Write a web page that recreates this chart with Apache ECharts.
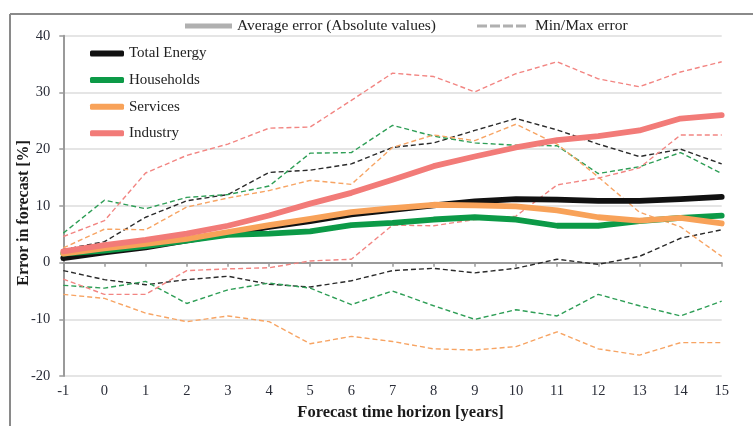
<!DOCTYPE html>
<html>
<head>
<meta charset="utf-8">
<script src="https://cdn.jsdelivr.net/npm/echarts@6/dist/echarts.min.js"></script>
<style>html,body{margin:0;padding:0;background:#fff;}#c{width:753px;height:426px;}</style>
</head>
<body>
<div id="c"></div>
<script>
const horizons = ['-1','0','1','2','3','4','5','6','7','8','9','10','11','12','13','14','15'];
const yTicks = [-20,-10,0,10,20,30,40];

const totalAvg      = [0.8,1.8,2.7,3.9,5.1,6.3,7.3,8.5,9.3,10.1,10.8,11.2,11.1,10.9,10.9,11.2,11.6];
const householdsAvg = [1.6,2.1,2.9,3.9,4.9,5.1,5.5,6.6,7.0,7.6,8.0,7.6,6.5,6.5,7.3,7.9,8.3];
const servicesAvg   = [1.6,2.5,3.3,4.2,5.4,6.6,7.7,8.9,9.6,10.2,10.1,9.9,9.2,8.0,7.4,7.9,6.9];
const industryAvg   = [2.0,3.1,4.0,5.1,6.5,8.3,10.4,12.3,14.6,17.0,18.7,20.3,21.6,22.3,23.3,25.4,26.0];

const totalMax      = [2.3,3.7,8.0,10.9,12.0,15.9,16.3,17.4,20.3,21.1,23.3,25.4,23.4,20.9,18.7,20.0,17.4];
const totalMin      = [-1.4,-3.0,-3.9,-3.0,-2.4,-3.8,-4.3,-3.2,-1.4,-1.0,-1.8,-1.0,0.6,-0.3,1.1,4.3,5.8];
const householdsMax = [5.2,11.0,9.5,11.5,12.0,13.5,19.3,19.4,24.2,22.3,21.1,20.7,20.6,15.7,16.9,19.4,15.7];
const householdsMin = [-4.0,-4.5,-3.3,-7.2,-4.8,-3.6,-4.5,-7.4,-5.0,-7.6,-10.0,-8.3,-9.4,-5.6,-7.6,-9.4,-6.8];
const servicesMax   = [2.6,5.9,5.8,9.8,11.4,12.7,14.5,13.8,20.3,22.5,21.5,24.4,20.9,15.1,8.9,6.3,1.1];
const servicesMin   = [-5.6,-6.3,-8.9,-10.4,-9.4,-10.4,-14.3,-13.0,-13.9,-15.2,-15.4,-14.8,-12.2,-15.2,-16.3,-14.1,-14.1];
const industryMax   = [4.6,7.4,15.8,18.9,20.9,23.7,23.9,28.6,33.4,32.8,30.1,33.3,35.4,32.4,31.0,33.6,35.4];
const industryMin   = [-2.9,-5.6,-5.6,-1.4,-1.1,-0.9,0.3,0.6,6.6,6.5,7.6,8.2,13.7,14.9,16.7,22.5,22.5];

const FONT = 'Liberation Serif';
const cols = {total:'#111111', households:'#0c9a47', services:'#f8a259', industry:'#f27b78'};
const dashCols = {total:'#2a2a2a', households:'#2e9e56', services:'#f7a463', industry:'#f28582'};
const DASH_ICON = 'path://M0,0h10v3h-10z M13,0h10v3h-10z M26,0h10v3h-10z M39,0h10v3h-10z';

function avg(name, data, color){
  return {name, type:'line', data, symbol:'none', smooth:false,
    lineStyle:{color, width:5.8, cap:'round', join:'round'}, itemStyle:{color}, z:5};
}
function dash(name, data, color){
  return {name, type:'line', data, symbol:'none',
    lineStyle:{color, width:1.4, type:[5,3]}, itemStyle:{color}, z:3};
}

const chart = echarts.init(document.getElementById('c'), null, {renderer:'canvas'});
chart.setOption({
  animation:false,
  backgroundColor:'#fff',
  grid:{left:63.3, right:31.3, top:35.7, bottom:40.3},
  legend:[
    {data:[{name:'Average error (Absolute values)', icon:'rect'}], left:180, top:13, orient:'horizontal',
     itemWidth:47, itemHeight:5, textStyle:{fontFamily:FONT, fontSize:15.5, color:'#222'}},
    {data:[{name:'Min/Max error', icon:DASH_ICON}], left:472, top:13, orient:'horizontal',
     itemWidth:49, itemHeight:3, textStyle:{fontFamily:FONT, fontSize:15.5, color:'#222', padding:[0,0,0,4]}},
    {data:['Total Energy','Households','Services','Industry'].map(n=>({name:n, icon:'roundRect'})),
     left:85, top:41, orient:'vertical',
     itemWidth:34, itemHeight:6, itemGap:11.6, textStyle:{fontFamily:FONT, fontSize:15, color:'#222'}}
  ],
  xAxis:{type:'category', data:horizons, boundaryGap:false,
    name:'Forecast time horizon [years]', nameLocation:'middle', nameGap:20,
    nameTextStyle:{fontFamily:FONT, fontSize:16.5, fontWeight:'bold', color:'#1a1a1a', padding:[0,0,0,16]},
    axisLine:{lineStyle:{color:'#9a9a9a', width:2}},
    axisTick:{show:true, alignWithLabel:true, length:4, lineStyle:{color:'#9a9a9a', width:1.5}},
    axisLabel:{fontFamily:FONT, fontSize:14.5, color:'#2a2d38', margin:8},
    splitLine:{show:false}
  },
  yAxis:{type:'value', min:yTicks[0], max:yTicks[yTicks.length-1], interval:10,
    name:'Error in forecast [%]', nameLocation:'middle', nameGap:31, nameMoveOverlap:false,
    nameTextStyle:{fontFamily:FONT, fontSize:16, fontWeight:'bold', color:'#1a1a1a', padding:[0,14,0,0]},
    axisLine:{show:true, lineStyle:{color:'#9a9a9a', width:2}},
    axisTick:{show:true, length:4, lineStyle:{color:'#9a9a9a', width:1.5}},
    axisLabel:{fontFamily:FONT, fontSize:14.5, color:'#2a2d38', margin:13},
    splitLine:{show:true, lineStyle:{color:'#dcdcdc', width:1.5}}
  },
  graphic:[
    {type:'line', shape:{x1:10, y1:14, x2:753, y2:14}, style:{stroke:'#8a8a8a', lineWidth:2}, z:10},
    {type:'line', shape:{x1:10, y1:14, x2:10, y2:426}, style:{stroke:'#8a8a8a', lineWidth:2}, z:10}
  ],
  series:[
    {name:'Average error (Absolute values)', type:'line', data:[], symbol:'none',
     lineStyle:{color:'#b0b0b0', width:5}, itemStyle:{color:'#b0b0b0'}},
    {name:'Min/Max error', type:'line', data:[], symbol:'none',
     lineStyle:{color:'#b0b0b0', width:2.5, type:[9,4]}, itemStyle:{color:'#b0b0b0'}},
    dash('Total Energy max', totalMax, dashCols.total),
    dash('Total Energy min', totalMin, dashCols.total),
    dash('Households max', householdsMax, dashCols.households),
    dash('Households min', householdsMin, dashCols.households),
    dash('Services max', servicesMax, dashCols.services),
    dash('Services min', servicesMin, dashCols.services),
    dash('Industry max', industryMax, dashCols.industry),
    dash('Industry min', industryMin, dashCols.industry),
    avg('Total Energy', totalAvg, cols.total),
    avg('Households', householdsAvg, cols.households),
    avg('Services', servicesAvg, cols.services),
    avg('Industry', industryAvg, cols.industry)
  ]
});
</script>
</body>
</html>
